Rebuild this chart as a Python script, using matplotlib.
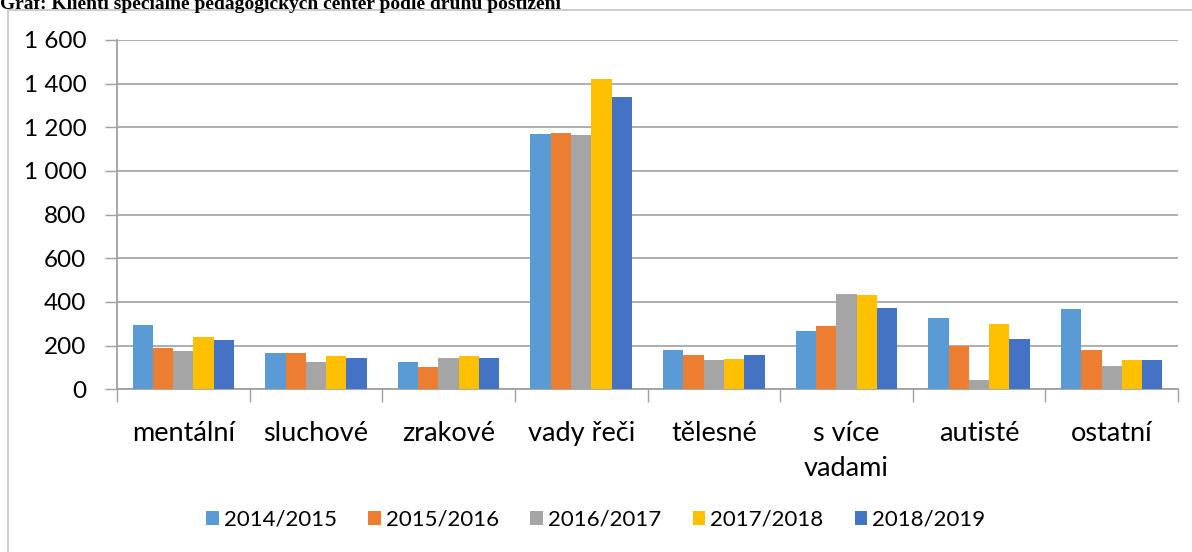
import numpy as np
import matplotlib
matplotlib.use("Agg")
import matplotlib.pyplot as plt
from matplotlib.patches import Rectangle

# data
categories = ["mentální", "sluchové", "zrakové", "vady řeči", "tělesné",
              "s více\nvadami", "autisté", "ostatní"]
years = ["2014/2015", "2015/2016", "2016/2017", "2017/2018", "2018/2019"]
v2014 = [295, 167, 124, 1168, 179, 266, 326, 367]
v2015 = [187, 167, 101, 1174, 155, 291, 199, 179]
v2016 = [174, 124, 142, 1166, 132, 438, 43, 107]
v2017 = [240, 154, 154, 1420, 138, 433, 297, 132]
v2018 = [228, 142, 142, 1338, 155, 374, 231, 132]
series = [v2014, v2015, v2016, v2017, v2018]
colors = ["#5B9BD5", "#ED7D31", "#A5A5A5", "#FFC000", "#4472C4"]

plt.rcParams['font.family'] = ['Lato', 'DejaVu Sans']

fig = plt.figure(figsize=(11.92, 5.52), dpi=100)
W, H = 1192, 552
ax = fig.add_axes([117 / W, 1 - 389.3 / H, (1178 - 117) / W, (389.3 - 40) / H])

x = np.arange(len(categories))
bw = 0.153
for i, (vals, c) in enumerate(zip(series, colors)):
    ax.bar(x + (i - 2) * bw, vals, bw, color=c, label=years[i], zorder=3)

ax.set_xlim(-0.5, len(categories) - 0.5)
ax.set_ylim(0, 1600)
ax.set_yticks(np.arange(0, 1601, 200))
ax.set_yticklabels([f"{v:,}".replace(",", " ") for v in range(0, 1601, 200)])
ax.yaxis.grid(True, color="#A8A8A8", linewidth=1.3, zorder=0)
ax.tick_params(axis='y', length=9, width=1, color="#A0A0A0", pad=13,
               labelsize=17.5)

ax.set_xticks(x)
ax.set_xticklabels(categories, fontsize=19.5, linespacing=1.5)
ax.set_xticks(np.arange(-0.5, len(categories)), minor=True)
ax.tick_params(axis='x', which='major', length=0, pad=23)
ax.tick_params(axis='x', which='minor', length=9, width=1, color="#A0A0A0")

for s in ["top", "right"]:
    ax.spines[s].set_visible(False)
for s in ["left", "bottom"]:
    ax.spines[s].set_color("#A0A0A0")
    ax.spines[s].set_linewidth(1.3)

leg = fig.legend(loc="center", bbox_to_anchor=(596 / W, 1 - 520 / H), ncol=5,
                 frameon=False, fontsize=16, handlelength=0.55, handleheight=0.55,
                 handletextpad=0.25, columnspacing=1.4)

# outer chart frame (partly cropped in the reference)
fig.patches.append(Rectangle((8 / W, -0.1), 1.2, 1 - 10 / H + 0.1,
                             transform=fig.transFigure, fill=False,
                             edgecolor="#C8C8C8", linewidth=1.3))

fig.text(0, 1 - 9 / H, "Graf: Klienti speciálně pedagogických center podle druhu postižení",
         family="Liberation Serif", fontweight="bold", fontsize=14,
         va="baseline", ha="left")

fig.savefig("out.png", dpi=100)
